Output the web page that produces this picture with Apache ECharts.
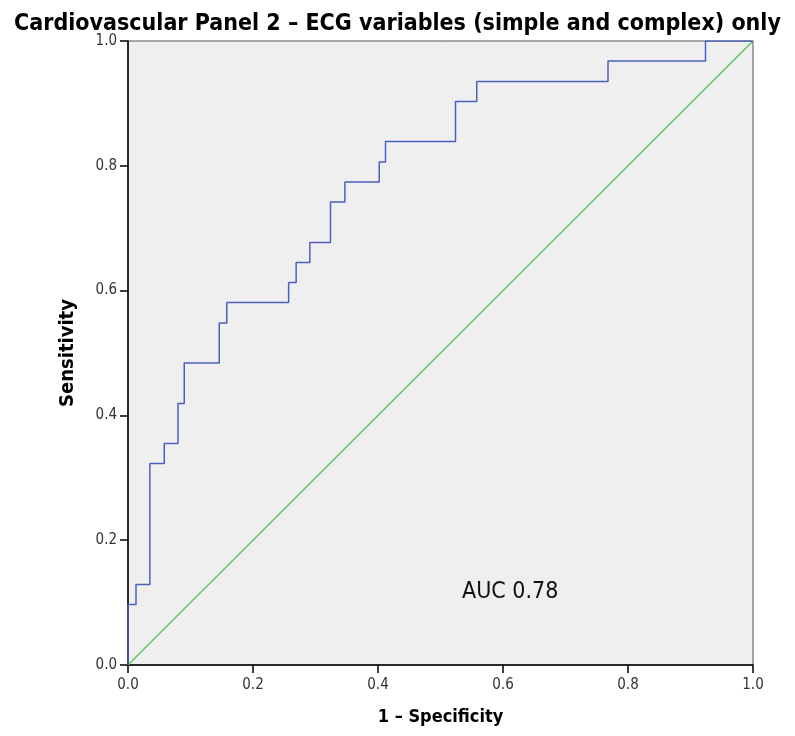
<!DOCTYPE html>
<html><head><meta charset="utf-8">
<script src="https://cdn.jsdelivr.net/npm/echarts@6/dist/echarts.min.js"></script>
<style>html,body{margin:0;padding:0;background:#fff}#c{width:795px;height:736px}</style>
</head><body><div id="c"></div>
<script>
const fpr = [0, 0.0128, 0.035, 0.058, 0.080, 0.090, 0.146, 0.158, 0.257, 0.269, 0.291, 0.324, 0.347, 0.402, 0.412, 0.524, 0.558, 0.768, 0.924, 1.0];
const tpr = [0, 0.097, 0.129, 0.323, 0.355, 0.419, 0.484, 0.548, 0.581, 0.613, 0.645, 0.677, 0.742, 0.774, 0.806, 0.839, 0.903, 0.935, 0.968, 1.0];
const refX = [0, 1];
const refY = [0, 1];
const titleText = 'Cardiovascular Panel 2 \u2013 ECG variables (simple and complex) only';
const xName = '1 \u2013 Specificity';
const yName = 'Sensitivity';
const aucText = 'AUC 0.78';

const font = '"DejaVu Sans Condensed", "Liberation Sans", sans-serif';
const chart = echarts.init(document.getElementById('c'), null, {renderer: 'canvas'});
chart.setOption({
  animation: false,
  backgroundColor: '#fff',
  title: {
    text: titleText, left: 'center', top: 8,
    textStyle: {fontFamily: font, fontSize: 23, fontWeight: 'bold', color: '#000'}
  },
  grid: {left: 128, right: 42, top: 41, bottom: 71, show: true, backgroundColor: '#efefef', borderColor: '#555', borderWidth: 1},
  xAxis: {
    type: 'value', min: 0, max: 1, interval: 0.2,
    name: xName, nameLocation: 'middle', nameGap: 43,
    nameTextStyle: {fontFamily: font, fontSize: 18, fontWeight: 'bold', color: '#000'},
    axisLine: {show: true, onZero: false, lineStyle: {color: '#000', width: 1.5}},
    axisTick: {show: true, length: 8, lineStyle: {color: '#000', width: 1.5}},
    axisLabel: {fontFamily: font, fontSize: 15, color: '#333', margin: 13, formatter: v => v.toFixed(1)},
    splitLine: {show: false}
  },
  yAxis: {
    type: 'value', min: 0, max: 1, interval: 0.2,
    name: yName, nameLocation: 'middle', nameGap: 50, nameRotate: 90,
    nameTextStyle: {fontFamily: font, fontSize: 20, fontWeight: 'bold', color: '#000'},
    axisLine: {show: true, onZero: false, lineStyle: {color: '#000', width: 1.5}},
    axisTick: {show: true, length: 8, lineStyle: {color: '#000', width: 1.5}},
    axisLabel: {fontFamily: font, fontSize: 15, color: '#333', margin: 11, formatter: v => v.toFixed(1)},
    splitLine: {show: false}
  },
  series: [
    {
      type: 'line', data: refX.map((x, i) => [x, refY[i]]),
      showSymbol: false, lineStyle: {color: '#5cc866', width: 1.5}, z: 2
    },
    {
      type: 'line', step: 'start', data: fpr.map((x, i) => [x, tpr[i]]),
      showSymbol: false, lineStyle: {color: '#4a60bf', width: 1.5}, z: 3
    }
  ],
  graphic: [{
    type: 'text', left: 462, top: 581,
    style: {text: aucText, font: '23px ' + font, fill: '#111'}
  }]
});
</script></body></html>
